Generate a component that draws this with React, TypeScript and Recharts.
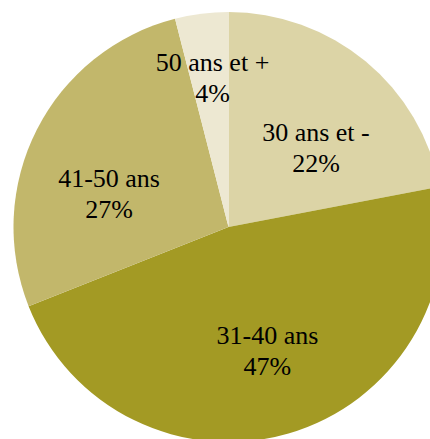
import React from "react";
import { PieChart, Pie, Cell } from "recharts";

const categories = ["30 ans et -", "31-40 ans", "41-50 ans", "50 ans et +"];
const values = [22, 47, 27, 4];
const colors = ["#DCD4A6", "#A39A24", "#C2B76B", "#EDE8D2"];

// label placement tweaks (relative to each slice's mid-angle)
const labelRadiusFactor = [0.55, 0.602, 0.577, 0.7];
const labelAngleShift = [-8.1, 1.3, 11.3, -1.1];

const data = categories.map((name, i) => ({ name, value: values[i] }));

const RADIAN = Math.PI / 180;
const FONT =
  "'Liberation Serif', Tinos, 'Times New Roman', Times, 'Nimbus Roman', 'Noto Serif', 'DejaVu Serif', FreeSerif, serif";

const renderLabel = (props: any) => {
  const { cx, cy, midAngle, outerRadius, index } = props;
  const r = outerRadius * labelRadiusFactor[index];
  const a = (midAngle + labelAngleShift[index]) * RADIAN;
  const x = cx + r * Math.cos(-a);
  const y = cy + r * Math.sin(-a);
  return (
    <text
      key={`lbl-${index}`}
      x={x}
      y={y}
      textAnchor="middle"
      fill="#000"
      style={{ fontFamily: FONT, fontSize: 26 }}
    >
      <tspan x={x} dy={-6.5}>{categories[index]}</tspan>
      <tspan x={x} dy={31}>{values[index]}%</tspan>
    </text>
  );
};

export default function App() {
  return (
    <div style={{ width: 430, height: 439, background: "#fff", fontFamily: FONT }}>
      <style>{`body{margin:0}`}</style>
      <PieChart width={430} height={439} margin={{ top: 0, right: 0, bottom: 0, left: 0 }}>
        <Pie
          data={data}
          dataKey="value"
          nameKey="name"
          cx={228.5}
          cy={227}
          outerRadius={215}
          startAngle={90}
          endAngle={-270}
          stroke="none"
          label={renderLabel}
          labelLine={false}
          isAnimationActive={false}
        >
          {data.map((d, i) => (
            <Cell key={d.name} fill={colors[i]} />
          ))}
        </Pie>
      </PieChart>
    </div>
  );
}
